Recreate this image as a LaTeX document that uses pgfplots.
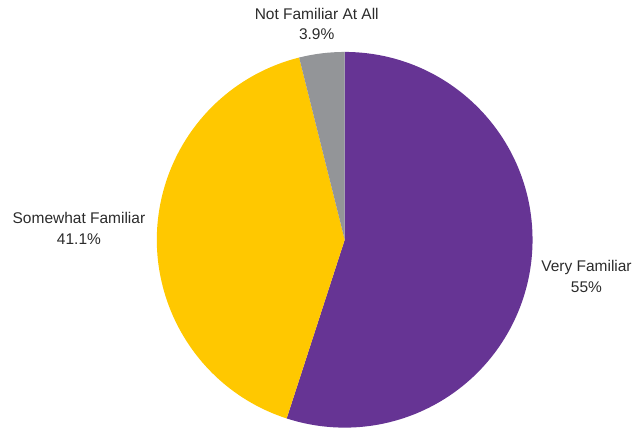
\documentclass[border=0pt]{standalone}
\usepackage{pgfplots}
\pgfplotsset{compat=1.18}
\usepackage{fontspec}
\setmainfont{Liberation Sans}
\definecolor{cPurple}{HTML}{663494}
\definecolor{cYellow}{HTML}{FFC800}
\definecolor{cGray}{HTML}{939598}
\definecolor{cText}{HTML}{2B2B2B}
\begin{document}
\begin{tikzpicture}
\begin{axis}[
  width=635pt, height=428pt, scale only axis,
  xmin=0, xmax=635, ymin=0, ymax=428,
  hide axis, clip=false,
]
\addplot[draw=none, forget plot] coordinates {(0,0) (635,428)};
% values (percent), clockwise from 12 o'clock
\def\cx{345}\def\cy{188}\def\r{188pt}
\pgfmathsetmacro{\aA}{90}
\pgfmathsetmacro{\aB}{90-55*3.6}
\pgfmathsetmacro{\aC}{\aB-41.1*3.6}
\pgfmathsetmacro{\aD}{\aC-3.9*3.6}
\fill[cPurple] (axis cs:\cx,\cy) -- ++(\aA:\r) arc[start angle=\aA, end angle=\aB, radius=\r] -- cycle;
\fill[cYellow] (axis cs:\cx,\cy) -- ++(\aB:\r) arc[start angle=\aB, end angle=\aC, radius=\r] -- cycle;
\fill[cGray] (axis cs:\cx,\cy) -- ++(\aC:\r) arc[start angle=\aC, end angle=\aD, radius=\r] -- cycle;
\node[align=center, text=cText, font=\fontsize{15.5}{21}\selectfont] at (axis cs:317,404) {Not Familiar At All\\3.9\%};
\node[align=center, text=cText, font=\fontsize{15.5}{21}\selectfont] at (axis cs:79,199) {Somewhat Familiar\\41.1\%};
\node[align=center, text=cText, font=\fontsize{15.5}{21}\selectfont] at (axis cs:587,151) {Very Familiar\\55\%};
\end{axis}
\end{tikzpicture}
\end{document}
